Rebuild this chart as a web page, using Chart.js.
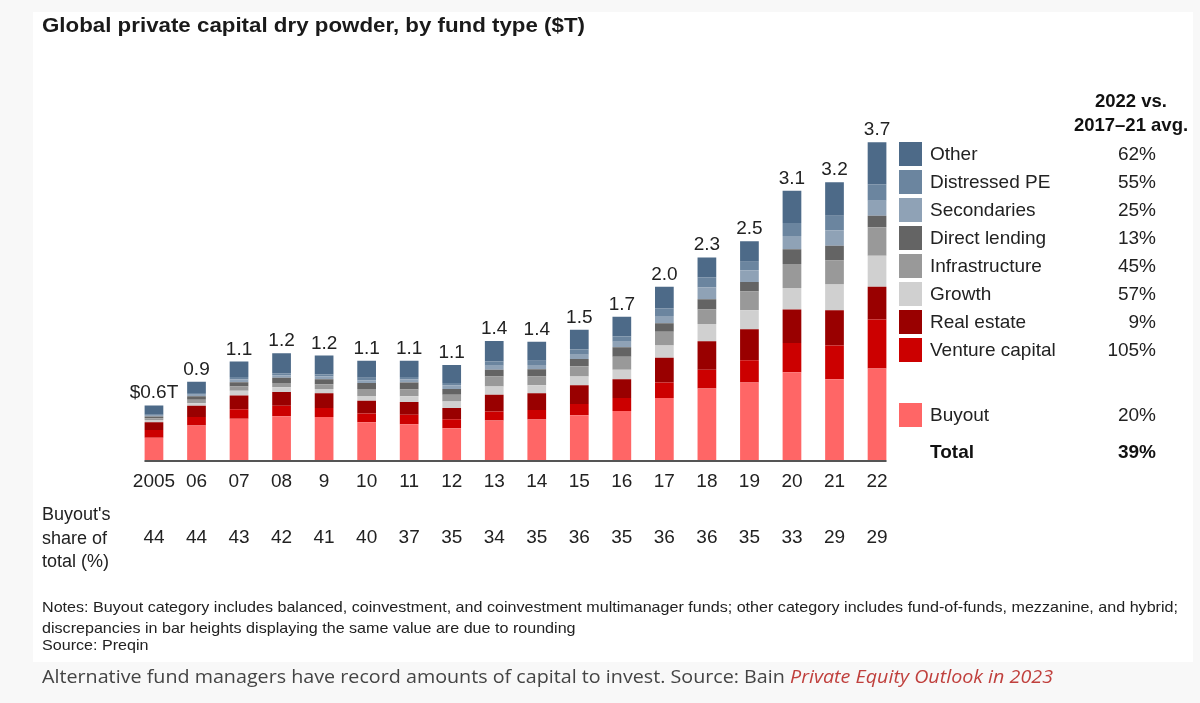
<!DOCTYPE html>
<html>
<head>
<meta charset="utf-8">
<script src="https://cdn.jsdelivr.net/npm/chart.js@4.4.1/dist/chart.umd.min.js"></script>
<style>
  html,body{margin:0;padding:0;}
  body{width:1200px;height:703px;background:#f8f8f8;position:relative;overflow:hidden;font-family:"Liberation Sans",Arial,sans-serif;}
  #card{position:absolute;left:33px;top:12px;width:1160px;height:650px;background:#ffffff;}
  #c{position:absolute;left:0;top:0;}
  .t{position:absolute;white-space:nowrap;color:#1a1a1a;}
  #title{left:42px;top:14px;font-size:20px;font-weight:bold;transform-origin:0 0;}
  .sw{position:absolute;left:899px;width:23px;height:24px;}
  .lg{position:absolute;left:930px;font-size:19px;color:#222;white-space:nowrap;}
  .pc{position:absolute;right:44px;font-size:19px;color:#222;text-align:right;white-space:nowrap;}
  #hdr{position:absolute;left:1051px;width:160px;top:89px;font-size:18.5px;font-weight:bold;text-align:center;line-height:24px;color:#111;}
  .note{position:absolute;left:42px;font-size:14.5px;color:#222;white-space:nowrap;transform-origin:0 0;}
  #cap{position:absolute;left:42px;top:664px;font-family:"Open Sans",sans-serif;font-size:17.5px;color:#444;white-space:nowrap;transform-origin:0 0;}
  #cap i{color:#c0403d;}
  .side{position:absolute;left:42px;font-size:18px;color:#222;line-height:23.5px;top:503px;}
</style>
</head>
<body>
<div id="card"></div>
<canvas id="c" width="1200" height="703"></canvas>
<div class="t" id="title">Global private capital dry powder, by fund type ($T)</div>
<div class="side">Buyout's<br>share of<br>total (%)</div>
<div id="hdr">2022 vs.<br>2017–21 avg.</div>
<div id="legend"></div>
<div class="note" id="n1" style="top:599px;">Notes: Buyout category includes balanced, coinvestment, and coinvestment multimanager funds; other category includes fund-of-funds, mezzanine, and hybrid;</div>
<div class="note" id="n2" style="top:620px;">discrepancies in bar heights displaying the same value are due to rounding</div>
<div class="note" id="n3" style="top:637px;">Source: Preqin</div>
<div id="cap">Alternative fund managers have record amounts of capital to invest. Source: Bain <i>Private Equity Outlook in 2023</i></div>
<script>
const years = ['2005','06','07','08','9','10','11','12','13','14','15','16','17','18','19','20','21','22'];
const totalLabels = ['$0.6T','0.9','1.1','1.2','1.2','1.1','1.1','1.1','1.4','1.4','1.5','1.7','2.0','2.3','2.5','3.1','3.2','3.7'];
const buyoutShare = [44,44,43,42,41,40,37,35,34,35,36,35,36,36,35,33,29,29];

const buyout        = [0.26,0.40,0.48,0.51,0.50,0.44,0.415,0.37,0.46,0.47,0.52,0.57,0.72,0.83,0.90,1.02,0.94,1.065];
const venture       = [0.09,0.10,0.11,0.12,0.105,0.10,0.11,0.105,0.105,0.11,0.13,0.15,0.18,0.22,0.26,0.34,0.39,0.57];
const realEstate    = [0.09,0.13,0.16,0.16,0.17,0.15,0.15,0.13,0.195,0.195,0.22,0.22,0.29,0.33,0.36,0.39,0.41,0.38];
const growth        = [0.025,0.03,0.055,0.055,0.05,0.055,0.065,0.075,0.095,0.095,0.10,0.11,0.14,0.20,0.22,0.25,0.30,0.36];
const infrastructure= [0.02,0.04,0.05,0.05,0.055,0.08,0.08,0.08,0.115,0.10,0.12,0.15,0.16,0.17,0.22,0.28,0.28,0.33];
const directLending = [0.02,0.04,0.05,0.06,0.06,0.07,0.08,0.065,0.08,0.085,0.085,0.11,0.10,0.12,0.11,0.17,0.17,0.135];
const secondaries   = [0.01,0.02,0.03,0.03,0.03,0.03,0.035,0.04,0.045,0.05,0.05,0.065,0.085,0.135,0.135,0.155,0.18,0.175];
const distressedPE  = [0.01,0.02,0.03,0.025,0.025,0.03,0.03,0.03,0.05,0.05,0.06,0.06,0.09,0.12,0.10,0.15,0.17,0.19];
const other         = [0.11,0.13,0.18,0.23,0.22,0.20,0.19,0.21,0.24,0.22,0.23,0.23,0.25,0.23,0.24,0.375,0.39,0.49];

const seriesNames = ['Buyout','Venture capital','Real estate','Growth','Infrastructure','Direct lending','Secondaries','Distressed PE','Other'];
const seriesData  = [buyout,venture,realEstate,growth,infrastructure,directLending,secondaries,distressedPE,other];
const seriesColors= ['#ff6666','#cc0000','#990000','#d0d0d0','#999999','#646464','#8fa2b6','#6b859f','#4d6a88'];

const legendOrder = ['Other','Distressed PE','Secondaries','Direct lending','Infrastructure','Growth','Real estate','Venture capital'];
const legendChange = ['62%','55%','25%','13%','45%','57%','9%','105%'];
const buyoutChange = '20%';
const totalChange = '39%';

const lg = document.getElementById('legend');
function addRow(name, color, pct, cy, bold){
  if (color){
    const s=document.createElement('div'); s.className='sw'; s.style.background=color; s.style.top=(cy-12)+'px'; lg.appendChild(s);
  }
  const l=document.createElement('div'); l.className='lg'; l.textContent=name; l.style.top=(cy-11)+'px'; if(bold){l.style.fontWeight='bold';l.style.color='#111';} lg.appendChild(l);
  const p=document.createElement('div'); p.className='pc'; p.textContent=pct; p.style.top=(cy-11)+'px'; if(bold){p.style.fontWeight='bold';p.style.color='#111';} lg.appendChild(p);
}
legendOrder.forEach((n,i)=>{
  const idx = seriesNames.indexOf(n);
  addRow(n, seriesColors[idx], legendChange[i], 154 + i*28);
});
addRow('Buyout', seriesColors[0], buyoutChange, 415);
addRow('Total', null, totalChange, 452, true);

const labelsPlugin = {
  id:'extras',
  afterDatasetsDraw(chart){
    const ctx=chart.ctx, xs=chart.scales.x, ys=chart.scales.y;
    ctx.save();
    const x0 = xs.getPixelForValue(0) - 9.5, x1 = xs.getPixelForValue(years.length-1) + 9.5;
    ctx.strokeStyle='#555'; ctx.lineWidth=2;
    ctx.beginPath(); ctx.moveTo(x0, ys.getPixelForValue(0)+1); ctx.lineTo(x1, ys.getPixelForValue(0)+1); ctx.stroke();
    ctx.font='19px "Liberation Sans", Arial, sans-serif';
    ctx.fillStyle='#222'; ctx.textAlign='center';
    years.forEach((y,i)=>{
      let tot=0; seriesData.forEach(s=>tot+=s[i]);
      const px=xs.getPixelForValue(i), py=ys.getPixelForValue(tot);
      ctx.textBaseline='alphabetic';
      ctx.fillText(totalLabels[i], px, py-7);
      ctx.textBaseline='middle';
      ctx.fillText(String(buyoutShare[i]), px, 538);
    });
    ctx.restore();
  }
};

new Chart(document.getElementById('c'), {
  type:'bar',
  data:{
    labels: years,
    datasets: seriesNames.map((n,i)=>({label:n,data:seriesData[i],backgroundColor:seriesColors[i],borderWidth:0,barPercentage:0.44,categoryPercentage:1}))
  },
  options:{
    responsive:false, animation:false,
    layout:{padding:{left:132.7,right:301.7,top:73,bottom:0}},
    plugins:{legend:{display:false},tooltip:{enabled:false},title:{display:false}},
    scales:{
      x:{stacked:true, grid:{display:false,drawTicks:false}, border:{display:false},
         ticks:{color:'#222',font:{family:'"Liberation Sans", Arial, sans-serif',size:19},padding:10,maxRotation:0,autoSkip:false},
         afterFit(s){ s.height = 243; }},
      y:{stacked:true, display:false, min:0, max:4.5}
    }
  },
  plugins:[labelsPlugin]
});

function fitW(id, w){ const e=document.getElementById(id); const r=e.getBoundingClientRect().width; const f=w/r; e.style.transform='scaleX('+f+')'; return f; }
fitW('title',543);
const nf = fitW('n1',1136);
['n2','n3'].forEach(id=>{ document.getElementById(id).style.transform='scaleX('+nf+')'; });
fitW('cap',1011);
</script>
</body>
</html>
